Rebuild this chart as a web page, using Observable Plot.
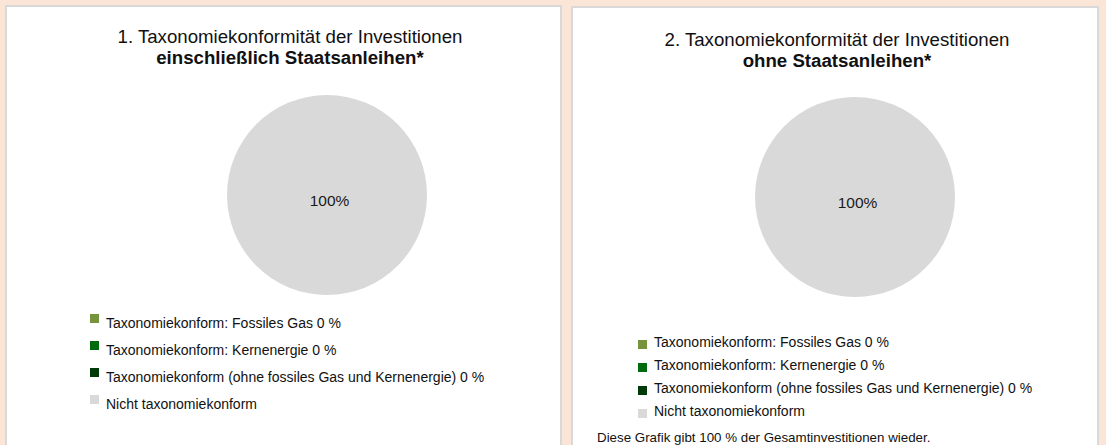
<!DOCTYPE html>
<html>
<head>
<meta charset="utf-8">
<script src="https://cdn.jsdelivr.net/npm/d3@7"></script>
<script src="https://cdn.jsdelivr.net/npm/@observablehq/plot@0.6"></script>
<style>
  html, body { margin: 0; padding: 0; }
  body {
    width: 1106px; height: 445px; overflow: hidden; position: relative;
    background: #fbe5d6;
    font-family: "Liberation Sans", Arial, Helvetica, sans-serif;
    color: #111;
  }
  .panel { position: absolute; background: #fff; border: 2px solid #d9d9d9; box-sizing: border-box; }
  .abs { position: absolute; }
  .title { font-size: 18.67px; line-height: 21px; text-align: center; width: 600px; white-space: nowrap; }
  .title b { font-weight: bold; }
  .legend { font-size: 14px; white-space: nowrap; }
  .row { position: relative; }
  .sw { position: absolute; width: 9px; height: 9px; }
  .footer { font-size: 13.33px; line-height: 15px; white-space: nowrap; }
</style>
</head>
<body>
<div class="panel" style="left:5px;top:5px;width:557px;height:460px;"></div>
<div class="panel" style="left:571px;top:6px;width:528px;height:460px;"></div>
<div id="root"></div>
<script>
// ---- data ----
const categories = [
  "Taxonomiekonform: Fossiles Gas",
  "Taxonomiekonform: Kernenergie",
  "Taxonomiekonform (ohne fossiles Gas und Kernenergie)",
  "Nicht taxonomiekonform"
];
const categoryColors = ["#77933c", "#006a0e", "#003a08", "#d9d9d9"];
const showValueInLegend = [true, true, true, false];
const valuesInclSovereign = [0, 0, 0, 100];
const valuesExclSovereign = [0, 0, 0, 100];
const titleLine1 = ["1. Taxonomiekonformität der Investitionen", "2. Taxonomiekonformität der Investitionen"];
const titleLine2 = ["einschließlich Staatsanleihen*", "ohne Staatsanleihen*"];
const footerText = "Diese Grafik gibt 100 % der Gesamtinvestitionen wieder.";

const color = Plot.scale({color: {type: "ordinal", domain: categories, range: categoryColors}});

// ---- layout ----
const layouts = [
  {titleCx: 290, titleTop: 26, cx: 327, cy: 195, r: 100,
   legLeft: 90, legTop: 309.6, rowH: 27, swTop: 4.4, textLeft: 16},
  {titleCx: 837, titleTop: 29, cx: 855, cy: 197, r: 100,
   legLeft: 638, legTop: 330.6, rowH: 23, swTop: 9.4, textLeft: 16}
];
const seriesList = [valuesInclSovereign, valuesExclSovereign];
const root = document.getElementById("root");

function pieChart(values, r) {
  const size = 2 * r + 20;
  const c = size / 2;
  const rows = categories.map((cat, i) => ({cat, value: values[i]}));
  const arcs = d3.pie().sort(null).value(d => d.value)(rows);
  const arcGen = d3.arc().innerRadius(0).outerRadius(r);
  const total = d3.sum(values);
  const labels = arcs.filter(a => a.data.value > 0).map(a => {
    const full = a.endAngle - a.startAngle >= 2 * Math.PI - 1e-6;
    const [px, py] = full ? [0, 0] : arcGen.centroid(a);
    return {x: c + px, y: c + py, text: Math.round(a.data.value / total * 100) + "%"};
  });
  return Plot.plot({
    width: size, height: size, margin: 0,
    x: {type: "identity", axis: null}, y: {type: "identity", axis: null},
    style: {background: "transparent", overflow: "visible"},
    marks: [
      (index, scales, vals, dims) => {
        const g = d3.create("svg:g").attr("transform", `translate(${c},${c})`);
        g.selectAll("path").data(arcs.filter(a => a.data.value > 0)).join("path")
          .attr("d", arcGen)
          .attr("fill", a => color.apply(a.data.cat));
        return g.node();
      },
      Plot.text(labels, {x: "x", y: "y", text: "text", fontSize: 15.5, dx: 2, dy: 6,
        fill: "#1a1a1a", fontFamily: "Liberation Sans, Arial, sans-serif"})
    ]
  });
}

layouts.forEach((L, k) => {
  const values = seriesList[k];
  const t = document.createElement("div");
  t.className = "abs title";
  t.style.left = (L.titleCx - 300) + "px";
  t.style.top = L.titleTop + "px";
  t.innerHTML = `${titleLine1[k]}<br><b>${titleLine2[k]}</b>`;
  root.appendChild(t);
  const svg = pieChart(values, L.r);
  const wrap = document.createElement("div");
  wrap.className = "abs";
  wrap.style.left = (L.cx - L.r - 10) + "px";
  wrap.style.top = (L.cy - L.r - 10) + "px";
  wrap.appendChild(svg);
  root.appendChild(wrap);
  const leg = document.createElement("div");
  leg.className = "abs legend";
  leg.style.left = L.legLeft + "px";
  leg.style.top = L.legTop + "px";
  categories.forEach((cat, i) => {
    const row = document.createElement("div");
    row.className = "row";
    row.style.height = L.rowH + "px";
    row.style.lineHeight = L.rowH + "px";
    const sw = document.createElement("div");
    sw.className = "sw";
    sw.style.background = color.apply(cat);
    sw.style.top = L.swTop + "px";
    sw.style.left = "0px";
    const tx = document.createElement("span");
    tx.style.position = "absolute";
    tx.style.left = L.textLeft + "px";
    tx.textContent = cat + (showValueInLegend[i] ? " " + values[i] + " %" : "");
    row.appendChild(sw); row.appendChild(tx);
    leg.appendChild(row);
  });
  root.appendChild(leg);
});

const f = document.createElement("div");
f.className = "abs footer";
f.style.left = "597px";
f.style.top = "430px";
f.textContent = footerText;
root.appendChild(f);
</script>
</body>
</html>
